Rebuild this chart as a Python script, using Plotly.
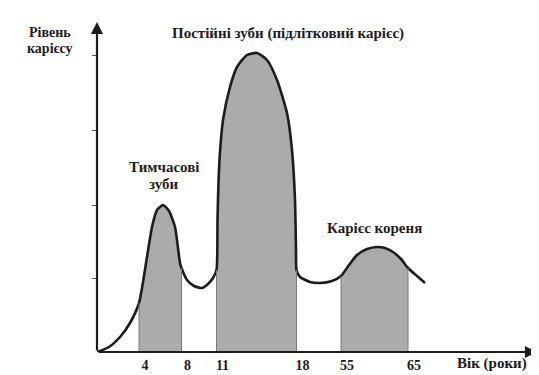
import plotly.graph_objects as go

# Schematic curve: position along the (non-linear) age axis and caries level
curve_pos = [0, 12, 23, 33, 42, 50, 55, 60, 66, 72, 78, 83, 84.5, 90, 97, 105, 111, 116, 119.5,
             120.5, 121.5, 123, 126, 133, 140, 150, 160, 170, 180, 190, 195, 198, 199, 199.5,
             203, 213, 223, 235, 244, 252, 260, 270, 280, 288, 296, 304, 311, 320, 328]
curve_level = [0, 5, 15, 29, 49, 95, 125, 142, 147, 141, 125, 89, 84, 72, 66, 64, 68, 74, 82,
               132, 170, 200, 232, 265, 285, 297, 299, 292, 272, 239, 202, 152, 102, 82,
               75, 70, 69, 71, 76, 87, 97, 103, 105, 104, 100, 93, 84, 76, 69]

# Age ticks and their schematic positions on the axis
age_labels = ["4", "8", "11", "18", "55", "65"]
age_pos = [42, 84.5, 119.5, 199.5, 244, 311]

# Shaded periods (start, end positions)
periods = [(42, 84.5), (119.5, 199.5), (244, 311)]

FILL = "#ababab"
INK = "#1c1c1c"
FONT = "Liberation Serif, Times New Roman, serif"

XR, YR = 440.0, 332.0

fig = go.Figure()

for a, b in periods:
    xs = [p for p in curve_pos if a <= p <= b]
    ys = [curve_level[curve_pos.index(p)] for p in xs]
    fig.add_trace(go.Scatter(x=xs, y=ys, mode="lines", line=dict(width=0, shape="spline", smoothing=0.6),
                             fill="tozeroy", fillcolor=FILL, hoverinfo="skip", showlegend=False))
    for edge in (a, b):
        fig.add_shape(type="line", x0=edge, x1=edge, y0=-6, y1=curve_level[curve_pos.index(edge)],
                      line=dict(color="#7a7a7a", width=1))

fig.add_trace(go.Scatter(x=curve_pos, y=curve_level, mode="lines",
                         line=dict(color=INK, width=2.6, shape="spline", smoothing=0.6),
                         hoverinfo="skip", showlegend=False, cliponaxis=False))

# axes as arrows
fig.add_annotation(x=XR, y=0, ax=0, ay=0, xref="x", yref="y", axref="x", ayref="y",
                   showarrow=True, arrowhead=2, arrowsize=1.1, arrowwidth=2.2, arrowcolor=INK, text="")
fig.add_annotation(x=0, y=330, ax=0, ay=0, xref="x", yref="y", axref="x", ayref="y",
                   showarrow=True, arrowhead=2, arrowsize=1.1, arrowwidth=2.2, arrowcolor=INK, text="")


def label(x, y, text, size=15):
    fig.add_annotation(x=x / XR, y=y / YR, xref="paper", yref="paper", text="<b>%s</b>" % text,
                       showarrow=False, font=dict(family=FONT, size=size, color=INK),
                       xanchor="center", yanchor="middle")


label(-47, 320, "Рівень", 14)
label(-47, 303, "карієсу", 14)
label(191, 318, "Постійні зуби (підлітковий карієс)")
label(67, 185, "Тимчасові")
label(67, 168, "зуби")
label(277, 124, "Карієс кореня")
label(395, -11, "Вік (роки)")

# the page body adds an 8px offset, so the figure is sized to fit the 539x375 window
fig.update_layout(
    width=531, height=367,
    margin=dict(l=89, r=2, t=12, b=23, autoexpand=False),
    paper_bgcolor="white", plot_bgcolor="white",
    font=dict(family=FONT),
    xaxis=dict(range=[0, XR], showgrid=False, zeroline=False, showline=False, automargin=False,
               tickmode="array", tickvals=age_pos, ticktext=["<b>%s</b>" % t for t in age_labels],
               ticks="", tickfont=dict(family=FONT, size=14, color=INK),
               ticklabelstandoff=3, ticklabelshift=6, fixedrange=True),
    yaxis=dict(range=[0, YR], showgrid=False, zeroline=False, showline=False, automargin=False,
               tickmode="array", tickvals=[74, 147, 222, 297], ticktext=["", "", "", ""],
               ticks="outside", ticklen=4, tickwidth=1, tickcolor="#555", fixedrange=True),
)

fig.write_html("out.html")
